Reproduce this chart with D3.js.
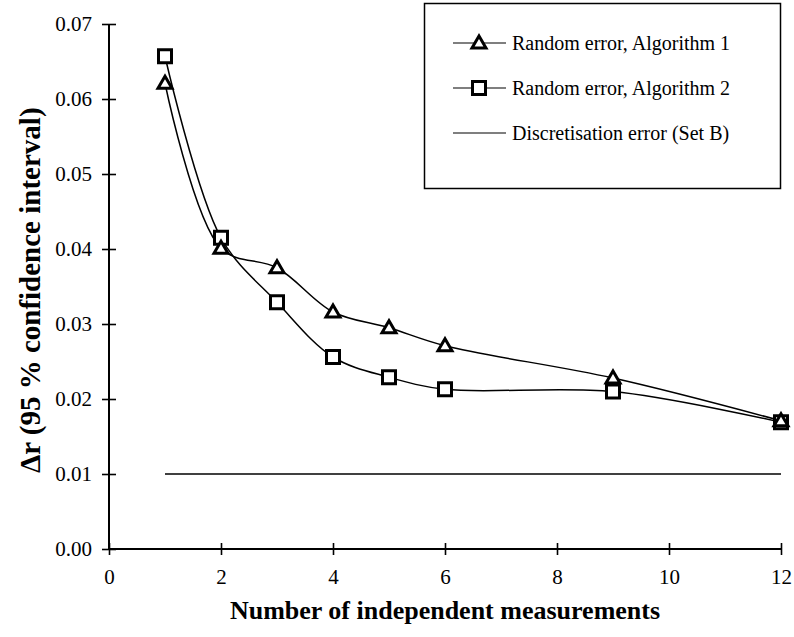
<!DOCTYPE html>
<html>
<head>
<meta charset="utf-8">
<script src="https://cdn.jsdelivr.net/npm/d3@7/dist/d3.min.js"></script>
<style>
    body { margin: 0; background: #fff; }
    svg text { font-family: "Liberation Serif", "Times New Roman", serif; fill: #000; }
</style>
</head>
<body>
<div id="chart"></div>
<script>
// data
const measurements = [1, 2, 3, 4, 5, 6, 9, 12];
const algorithm1 = [0.0621, 0.0401, 0.0375, 0.0316, 0.0295, 0.0271, 0.0228, 0.0171];
const algorithm2 = [0.0657, 0.0415, 0.0329, 0.0256, 0.0229, 0.0213, 0.0210, 0.0169];
const discretisation = [[1, 0.01], [12, 0.01]];
const xTicks = [0, 2, 4, 6, 8, 10, 12];
const yTicks = [0, 0.01, 0.02, 0.03, 0.04, 0.05, 0.06, 0.07];
const legendLabels = [
    "Random error, Algorithm 1",
    "Random error, Algorithm 2",
    "Discretisation error (Set B)"
];

const width = 794, height = 637;
const margin = {left: 109, right: 13, top: 24, bottom: 88};

const svg = d3.select("#chart").append("svg")
    .attr("width", width)
    .attr("height", height);

const x = d3.scaleLinear().domain([0, 12]).range([margin.left, width - margin.right]);
const y = d3.scaleLinear().domain([0, 0.07]).range([height - margin.bottom, margin.top]);

// axes
const xAxis = svg.append("g")
    .attr("transform", `translate(0,${y(0)})`)
    .call(d3.axisBottom(x).tickValues(xTicks).tickSize(6).tickPadding(14).tickFormat(d3.format("d")));
xAxis.selectAll(".tick line").attr("y1", -6);
const yAxis = svg.append("g")
    .attr("transform", `translate(${x(0)},0)`)
    .call(d3.axisLeft(y).tickValues(yTicks).tickSize(7).tickPadding(10).tickFormat(d3.format(".2f")));
yAxis.selectAll(".tick line").attr("x1", 7);

[xAxis, yAxis].forEach(g => {
    g.select(".domain").attr("stroke", "#000").attr("stroke-width", 2);
    g.selectAll(".tick line").attr("stroke", "#000").attr("stroke-width", 1.6);
    g.selectAll(".tick text")
        .style("font-family", '"Liberation Serif", serif')
        .style("font-size", "21px")
        .attr("fill", "#000");
});
xAxis.select(".domain").attr("d", `M${x(0)},0H${x(12)}`);
yAxis.select(".domain").attr("d", `M0,${y(0.07)}V${y(0)}`);

// axis titles
svg.append("text")
    .attr("x", x(6))
    .attr("y", 619)
    .attr("text-anchor", "middle")
    .style("font-size", "26px")
    .style("font-weight", "bold")
    .text("Number of independent measurements");

svg.append("text")
    .attr("transform", `translate(40,${y(0.0345)}) rotate(-90)`)
    .attr("text-anchor", "middle")
    .style("font-size", "29px")
    .style("font-weight", "bold")
    .text("\u0394r (95 % confidence interval)");

// series
const line = d3.line()
    .x(d => x(d[0]))
    .y(d => y(d[1]))
    .curve(d3.curveCatmullRom.alpha(0.5));

const series1 = measurements.map((m, i) => [m, algorithm1[i]]);
const series2 = measurements.map((m, i) => [m, algorithm2[i]]);

svg.append("path")
    .attr("d", d3.line().x(d => x(d[0])).y(d => y(d[1]))(discretisation))
    .attr("fill", "none").attr("stroke", "#000").attr("stroke-width", 1.6);

[series1, series2].forEach(s => {
    svg.append("path")
        .attr("d", line(s))
        .attr("fill", "none")
        .attr("stroke", "#000")
        .attr("stroke-width", 1.5);
});

const triangle = d3.symbol().type(d3.symbolTriangle).size(85);

function drawTriangle(g, cx, cy) {
    g.append("path")
        .attr("d", triangle())
        .attr("transform", `translate(${cx},${cy + 1})`)
        .attr("fill", "#fff")
        .attr("stroke", "#000")
        .attr("stroke-width", 3);
}

function drawSquare(g, cx, cy) {
    g.append("rect")
        .attr("x", cx - 6.5).attr("y", cy - 6.5)
        .attr("width", 13).attr("height", 13)
        .attr("fill", "#fff")
        .attr("stroke", "#000")
        .attr("stroke-width", 3);
}

const markers = svg.append("g");
series2.forEach(d => drawSquare(markers, x(d[0]), y(d[1])));
series1.forEach(d => drawTriangle(markers, x(d[0]), y(d[1])));

// legend
const legend = svg.append("g");
legend.append("rect")
    .attr("x", 424.5).attr("y", 3.5)
    .attr("width", 356).attr("height", 185)
    .attr("fill", "#fff")
    .attr("stroke", "#000")
    .attr("stroke-width", 1.5);

const rowY = [43, 88, 133];
rowY.forEach((ry, i) => {
    legend.append("line")
        .attr("x1", 453).attr("x2", 506)
        .attr("y1", ry).attr("y2", ry)
        .attr("stroke", "#000").attr("stroke-width", 1.2);
    if (i === 0) drawTriangle(legend, 479, ry);
    if (i === 1) drawSquare(legend, 479, ry);
    legend.append("text")
        .attr("x", 512)
        .attr("y", ry + 7)
        .style("font-size", "20px")
        .text(legendLabels[i]);
});
</script>
</body>
</html>
